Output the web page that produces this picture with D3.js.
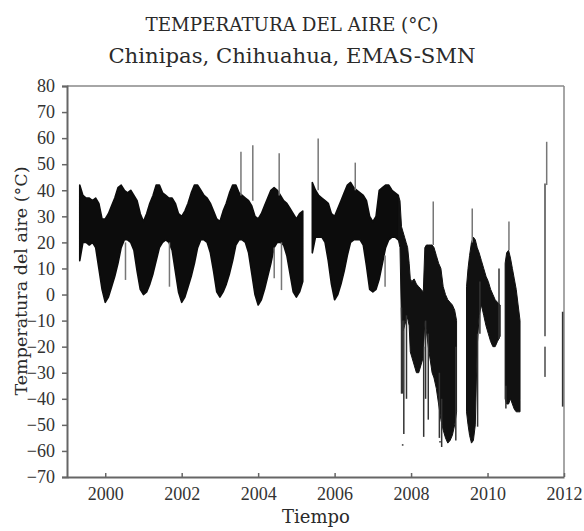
<!DOCTYPE html>
<html><head><meta charset="utf-8">
<script src="https://cdn.jsdelivr.net/npm/d3@7"></script>
<style>body{margin:0;background:#fff}</style>
</head><body><svg id="c" width="584" height="531"></svg>
<script>
// ---- DATA ----
const title = "TEMPERATURA DEL AIRE (°C)";
const subtitle = "Chinipas, Chihuahua, EMAS-SMN";
const yLabel = "Temperatura del aire (°C)";
const xLabel = "Tiempo";
const xTicks = [2000, 2002, 2004, 2006, 2008, 2010, 2012];
const yTicks = [80, 70, 60, 50, 40, 30, 20, 10, 0, -10, -20, -30, -40, -50, -60, -70];

// monthly envelope of the regular record (value at start of each month, Jan..Dec)
const bandYears = [1999, 2000, 2001, 2002, 2003, 2004, 2005, 2006, 2007];
const bandHi = [
  [null,null,null,null,42,38,37,37,36,37,35,29],
  [29,31,34,37,41,42,40,39,40,38,36,31],
  [28,31,35,38,42,42,39,38,37,37,35,31],
  [30,32,35,39,42,42,40,38,37,35,32,29],
  [28,32,35,39,42,42,39,38,37,36,34,30],
  [29,31,34,37,40,41,40,38,36,35,33,31],
  [29,31,32,null,null,43,40,38,37,36,35,31],
  [30,33,36,39,42,43,41,40,39,38,36,30],
  [28,30,40,41,42,42,40,39,38,null,null,null]
];
const bandLo = [
  [null,null,null,null,13,20,20,19,20,18,10,2],
  [-3,-1,3,7,12,18,21,21,20,17,9,2],
  [0,1,4,8,13,18,20,21,20,17,9,1],
  [-3,-1,3,7,12,18,21,21,20,16,9,1],
  [-1,1,4,8,13,19,21,21,20,16,8,0],
  [-4,-2,2,7,12,18,20,20,19,15,8,1],
  [-1,1,5,null,null,16,22,22,22,20,13,4],
  [-2,0,4,9,15,20,21,21,21,19,11,2],
  [1,2,6,12,18,21,22,22,21,null,null,null]
];

// irregular record after the sensor failure (decimal year, upper, lower); null = gap
const lateT  = [2007.667,2007.71,2007.75,2007.79,2007.83,2007.87,2007.91,2007.95,2007.98,2008.02,2008.08,2008.14,2008.20,2008.26,2008.32,
                2008.36,2008.40,2008.45,2008.50,2008.55,2008.60,2008.66,2008.72,2008.78,2008.84,2008.90,2008.96,2009.02,2009.08,2009.14,2009.19,
                2009.30,
                2009.45,2009.49,2009.53,2009.58,2009.63,2009.68,2009.73,2009.78,2009.84,2009.90,2009.96,2010.02,2010.08,2010.14,2010.20,2010.26,2010.33,
                2010.40,
                2010.46,2010.50,2010.55,2010.60,2010.65,2010.70,2010.75,2010.80,2010.85];
const lateHi = [38,36,26,24,22,20,18,12,6,5,6,4,3,2,1,
                18,19,19,19,19,18,15,12,10,3,0,-2,-3,-4,-6,-10,
                null,
                3,10,15,20,22,21,18,16,13,10,7,5,2,0,-2,-3,-4,
                null,
                12,16,17,14,10,6,2,-4,-10];
const lateLo = [21,18,-12,-14,-12,-10,-9,-12,-22,-24,-27,-30,-30,-27,-24,
                -10,-14,-20,-25,-30,-32,-36,-42,-48,-52,-55,-57,-56,-54,-50,-45,
                null,
                -45,-50,-54,-57,-56,-50,-20,-8,-4,-8,-12,-15,-18,-20,-20,-18,-16,
                null,
                -40,-42,-42,-40,-42,-44,-45,-45,-45];

// isolated spikes (decimal year, from, to)
const spikeT    = [2003.55,2003.86,2004.55,2005.57,2006.54,2000.53,2001.68,2004.42,2004.61,2007.32,2008.58,2009.60,2010.56,2011.547];
const spikeFrom = [38,36,38,40,40,20,20,18,20,15,19,20,17,42];
const spikeTo   = [54.8,57.3,54.2,59.9,50.6,5.6,3,6.2,1.7,3,35.7,33,28,58.6];

// dark streaks of the irregular record (decimal year, from, to)
const streakT    = [2007.75,2007.77,2007.81,2007.88,2008.33,2008.38,2008.45,2008.74,2008.80,2009.17,2009.74,2009.80,2010.30,2010.48,2011.503,2011.503,2011.97];
const streakFrom = [-5,-10,-10,-8,-20,-10,-15,-30,-40,-20,-15,5,10,-35,42.6,-20,-6.6];
const streakTo   = [-38,-38,-53.5,-40,-54.6,-40,-48,-55,-58.5,-56,-50.7,-15,-17,-43.7,-16,-31.6,-43];

// single stray readings
const dotT = [2007.78, 2008.757];
const dotV = [-57.7, -56.5];

// ---- DRAWING ----
const svg = d3.select("#c");
const M = {l: 67, r: 564, t: 86, b: 477};
const x = d3.scaleLinear().domain([1999, 2012]).range([M.l, M.r]);
const y = d3.scaleLinear().domain([-70, 80]).range([M.b, M.t]);
const serif = "'DejaVu Serif', serif";

svg.append("text").attr("x", 292).attr("y", 31).attr("text-anchor", "middle")
  .attr("font-family", serif).attr("font-size", 18.3).attr("fill", "#2a2a2a").text(title);
svg.append("text").attr("x", 292).attr("y", 63).attr("text-anchor", "middle")
  .attr("font-family", serif).attr("font-size", 21.2).attr("fill", "#2a2a2a").text(subtitle);

const band = [];
bandYears.forEach((yr, i) => {
  for (let m = 0; m < 12; m++) band.push({t: yr + m / 12, hi: bandHi[i][m], lo: bandLo[i][m]});
});
const late = lateT.map((t, i) => ({t, hi: lateHi[i], lo: lateLo[i]}));

const area = d3.area().defined(d => d.hi != null)
  .x(d => x(d.t)).y0(d => y(d.lo)).y1(d => y(d.hi));

const g = svg.append("g");
g.append("path").datum(band).attr("d", area).attr("fill", "#0c0c0c").attr("stroke", "#0c0c0c").attr("stroke-width", 1.6).attr("stroke-linejoin", "round");
g.append("path").datum(late).attr("d", area).attr("fill", "#111").attr("stroke", "#111").attr("stroke-width", 1).attr("stroke-linejoin", "round");

g.selectAll("line.spike").data(spikeT).join("line").attr("class", "spike")
  .attr("x1", d => x(d)).attr("x2", d => x(d))
  .attr("y1", (d, i) => y(spikeFrom[i])).attr("y2", (d, i) => y(spikeTo[i]))
  .attr("stroke", "#777").attr("stroke-width", 1.5);
g.selectAll("line.streak").data(streakT).join("line").attr("class", "streak")
  .attr("x1", d => x(d)).attr("x2", d => x(d))
  .attr("y1", (d, i) => y(streakFrom[i])).attr("y2", (d, i) => y(streakTo[i]))
  .attr("stroke", (d, i) => i >= 14 && i < 16 ? "#777" : "#333").attr("stroke-width", (d, i) => i >= 14 ? 2 : 1.5);
g.selectAll("rect.dot").data(dotT).join("rect").attr("class", "dot")
  .attr("x", d => x(d) - 0.8).attr("y", (d, i) => y(dotV[i]) - 0.8)
  .attr("width", 1.6).attr("height", 1.6).attr("fill", "#444");

// frame
svg.append("line").attr("x1", M.l).attr("x2", M.r).attr("y1", M.t).attr("y2", M.t).attr("stroke", "#888").attr("stroke-width", 1.5);
svg.append("line").attr("x1", M.r).attr("x2", M.r).attr("y1", M.t).attr("y2", M.b).attr("stroke", "#888").attr("stroke-width", 1.5);

// axes
const yAxis = svg.append("g").attr("transform", `translate(${M.l},0)`)
  .call(d3.axisLeft(y).tickValues(yTicks).tickSize(5).tickPadding(7).tickFormat(d3.format("d")));
yAxis.select(".domain").attr("stroke", "#666").attr("stroke-width", 2);
yAxis.selectAll(".tick line").attr("stroke", "#666").attr("stroke-width", 1.5);
yAxis.selectAll(".tick text").attr("font-family", "'Liberation Serif', serif").attr("font-size", 18).attr("fill", "#333");

const xAxis = svg.append("g").attr("transform", `translate(0,${M.b})`)
  .call(d3.axisBottom(x).tickValues(xTicks).tickSizeInner(-4).tickSizeOuter(0).tickPadding(10).tickFormat(d3.format("d")));
xAxis.select(".domain").attr("stroke", "#666").attr("stroke-width", 2);
xAxis.selectAll(".tick line").attr("stroke", "#666").attr("stroke-width", 1.5);
xAxis.selectAll(".tick text").attr("font-family", "'Liberation Serif', serif").attr("font-size", 18).attr("fill", "#333");

svg.append("text").attr("x", 316).attr("y", 523).attr("text-anchor", "middle")
  .attr("font-family", serif).attr("font-size", 18).attr("fill", "#2a2a2a").text(xLabel);
svg.append("text").attr("transform", "translate(27,281) rotate(-90)").attr("text-anchor", "middle")
  .attr("font-family", serif).attr("font-size", 17.5).attr("fill", "#2a2a2a").text(yLabel);
</script>
</body></html>
